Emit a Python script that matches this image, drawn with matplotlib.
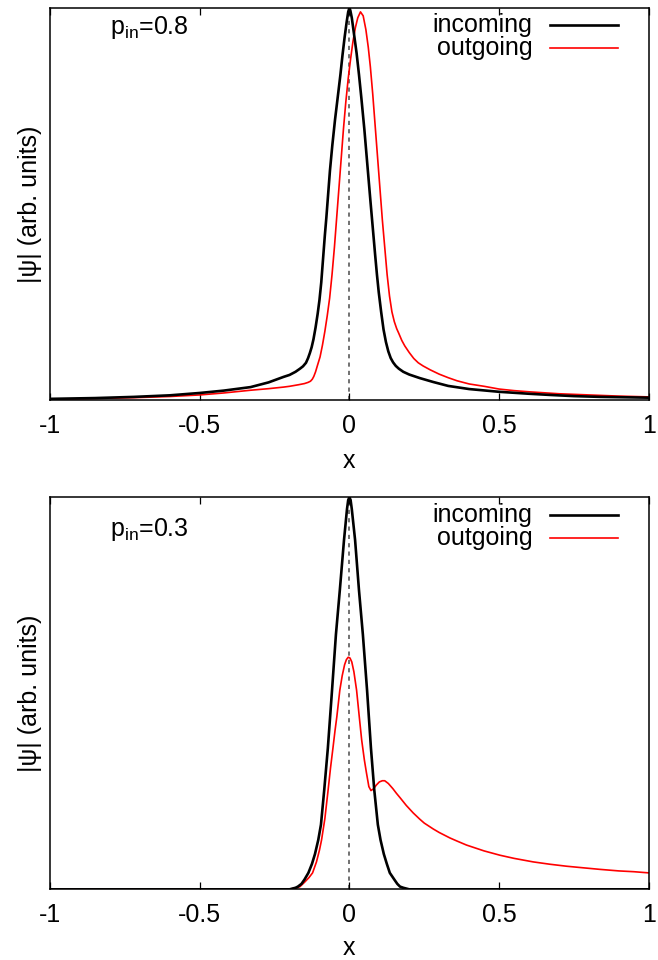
import matplotlib
matplotlib.use("Agg")
import matplotlib.pyplot as plt

plt.rcParams['font.family'] = ['Liberation Sans', 'DejaVu Sans']
plt.rcParams['axes.unicode_minus'] = False
plt.rcParams['mathtext.fontset'] = 'custom'
plt.rcParams['mathtext.rm'] = 'Liberation Sans'

# ---- data: wave-packet modulus, p_in = 0.8 ----
x_in_08 = [-1.0, -0.85, -0.72, -0.6, -0.5, -0.42, -0.33, -0.27, -0.22, -0.2,
           -0.18, -0.165, -0.155, -0.145, -0.138, -0.132, -0.126, -0.12, -0.113,
           -0.106, -0.1, -0.094, -0.088, -0.082, -0.077, -0.073, -0.065, -0.057,
           -0.048, -0.037, -0.03, -0.023, -0.016, -0.009, -0.004, 0.0, 0.003,
           0.008, 0.016, 0.024, 0.032, 0.04, 0.05, 0.06, 0.07, 0.078, 0.086,
           0.092, 0.098, 0.106, 0.114, 0.122, 0.13, 0.138, 0.146, 0.155, 0.165,
           0.18, 0.2, 0.235, 0.28, 0.33, 0.4, 0.5, 0.6, 0.67, 0.75, 0.84, 0.92, 1.0]
y_in_08 = [0.003, 0.005, 0.008, 0.012, 0.018, 0.024, 0.033, 0.045, 0.059, 0.064,
           0.072, 0.08, 0.086, 0.095, 0.107, 0.12, 0.135, 0.155, 0.185,
           0.22, 0.255, 0.3, 0.36, 0.42, 0.465, 0.505, 0.585, 0.65,
           0.715, 0.785, 0.83, 0.88, 0.925, 0.965, 0.99, 1.0, 0.994,
           0.975, 0.93, 0.885, 0.83, 0.77, 0.69, 0.60, 0.51, 0.44, 0.37,
           0.32, 0.275, 0.225, 0.18, 0.148, 0.124, 0.107, 0.096, 0.087, 0.08,
           0.072, 0.065, 0.056, 0.046, 0.036, 0.028, 0.021, 0.016, 0.013, 0.010, 0.008, 0.007, 0.006]

x_out_08 = [-1.0, -0.85, -0.72, -0.6, -0.5, -0.42, -0.33, -0.27, -0.22, -0.2,
            -0.17, -0.15, -0.138, -0.13, -0.124, -0.119, -0.113, -0.106, -0.098,
            -0.09, -0.082, -0.074, -0.066, -0.058, -0.05, -0.043, -0.036, -0.028,
            -0.02, -0.012, -0.004, 0.004, 0.012, 0.02, 0.028, 0.037, 0.046, 0.055,
            0.063, 0.07, 0.078, 0.086, 0.094, 0.102, 0.11, 0.118, 0.126, 0.134,
            0.142, 0.15, 0.158, 0.165, 0.175, 0.185, 0.2, 0.215, 0.23, 0.246,
            0.27, 0.3, 0.33, 0.36, 0.4, 0.45, 0.5, 0.55, 0.6, 0.7, 0.8, 0.9, 1.0]
y_out_08 = [0.002, 0.004, 0.006, 0.009, 0.013, 0.018, 0.025, 0.029, 0.033, 0.035,
            0.039, 0.042, 0.045, 0.048, 0.053, 0.06, 0.072, 0.09, 0.11,
            0.14, 0.175, 0.215, 0.26, 0.32, 0.39, 0.46, 0.53, 0.61,
            0.69, 0.76, 0.82, 0.87, 0.915, 0.95, 0.975, 0.99, 0.98, 0.945,
            0.9, 0.85, 0.78, 0.70, 0.62, 0.54, 0.46, 0.39, 0.32, 0.265,
            0.225, 0.2, 0.182, 0.17, 0.152, 0.138, 0.121, 0.106, 0.095, 0.087,
            0.077, 0.066, 0.057, 0.049, 0.041, 0.035, 0.028, 0.024, 0.021, 0.016, 0.013, 0.010, 0.008]

# ---- data: wave-packet modulus, p_in = 0.3 ----
x_in_03 = [-1.0, -0.5, -0.25, -0.2, -0.18, -0.172, -0.16, -0.15, -0.137, -0.125,
           -0.115, -0.104, -0.095, -0.084, -0.072, -0.058, -0.045, -0.032, -0.018,
           -0.008, -0.004, 0.0, 0.004, 0.008, 0.019, 0.032, 0.045, 0.059, 0.072,
           0.083, 0.095, 0.104, 0.115, 0.125, 0.135, 0.15, 0.16, 0.169, 0.18, 0.2,
           0.25, 0.5, 1.0]
y_in_03 = [0.0, 0.0, 0.0, 0.0, 0.004, 0.007, 0.014, 0.025, 0.042, 0.065,
           0.09, 0.126, 0.165, 0.254, 0.36, 0.508, 0.65, 0.763, 0.891,
           0.97, 0.993, 1.0, 0.993, 0.97, 0.891, 0.763, 0.65, 0.508, 0.36,
           0.254, 0.165, 0.126, 0.09, 0.065, 0.042, 0.025, 0.014, 0.007, 0.004, 0.0,
           0.0, 0.0, 0.0]

x_out_03 = [-1.0, -0.5, -0.25, -0.2, -0.19, -0.175, -0.165, -0.15, -0.135, -0.123,
            -0.11, -0.1, -0.093, -0.082, -0.071, -0.063, -0.055, -0.048, -0.042,
            -0.032, -0.024, -0.016, -0.01, -0.004, 0.002, 0.008, 0.015, 0.024,
            0.033, 0.041, 0.05, 0.057, 0.065, 0.072, 0.08, 0.09, 0.1, 0.11, 0.118,
            0.13, 0.145, 0.157, 0.17, 0.19, 0.213, 0.235, 0.25, 0.28, 0.3, 0.336,
            0.36, 0.391, 0.45, 0.503, 0.55, 0.614, 0.67, 0.725, 0.78, 0.836, 0.9,
            0.95, 1.0]
y_out_03 = [0.0, 0.0, 0.0, 0.0, 0.002, 0.004, 0.007, 0.018, 0.03, 0.042,
            0.07, 0.1, 0.126, 0.18, 0.254, 0.31, 0.36, 0.405, 0.44,
            0.508, 0.545, 0.573, 0.586, 0.592, 0.59, 0.58, 0.555, 0.508,
            0.44, 0.381, 0.33, 0.297, 0.262, 0.252, 0.256, 0.266, 0.274, 0.277, 0.277,
            0.27, 0.257, 0.245, 0.233, 0.214, 0.195, 0.179, 0.169, 0.154, 0.145, 0.131,
            0.123, 0.113, 0.098, 0.087, 0.079, 0.07, 0.064, 0.059, 0.055, 0.051, 0.047,
            0.045, 0.042]

x_ticks = [-1, -0.5, 0, 0.5, 1]
x_tick_labels = ['-1', '-0.5', '0', '0.5', '1']
series_labels = ['incoming', 'outgoing']
panel_labels = [r'$\mathregular{p_{in}}$=0.8', r'$\mathregular{p_{in}}$=0.3']

FS = 18
fig = plt.figure(figsize=(6.58, 9.6), dpi=100)
ax_top = fig.add_axes([0.076, 0.5833, 0.910, 0.4084])
ax_bot = fig.add_axes([0.076, 0.0736, 0.910, 0.4084])

panels = [
    (ax_top, x_in_08, y_in_08, x_out_08, y_out_08, panel_labels[0], 0.949, 0.957, 0.898, 8),
    (ax_bot, x_in_03, y_in_03, x_out_03, y_out_03, panel_labels[1], 0.917, 0.955, 0.896, 6),
]

for ax, xi, yi, xo, yo, plabel, ply, ly1, ly2, lpad in panels:
    ax.axvline(0, color='0.35', lw=1.2, ls=(0, (2.5, 2.5)), zorder=1)
    ax.plot(xo, yo, color='#ff0000', lw=1.2, zorder=2)
    ax.plot(xi, yi, color='black', lw=1.9, zorder=3)
    ax.set_xlim(-1, 1)
    ax.set_ylim(0, 1.0)
    ax.set_yticks([])
    ax.set_xticks(x_ticks)
    ax.set_xticklabels(x_tick_labels)
    ax.tick_params(axis='x', direction='in', top=True, bottom=True,
                   length=5, width=0.9, labelsize=FS, pad=10)
    for sp in ax.spines.values():
        sp.set_linewidth(1.1)
    ax.set_xlabel('x', fontsize=FS, labelpad=lpad)
    ax.set_ylabel('|ψ| (arb. units)', fontsize=FS, labelpad=6)
    ax.text(0.1, ply, plabel, transform=ax.transAxes, fontsize=FS,
            ha='left', va='center')
    # key: label text on the left, line sample on the right
    for label, yk, col, lw in [(series_labels[0], ly1, 'black', 1.9),
                               (series_labels[1], ly2, '#ff0000', 1.2)]:
        ax.text(0.806, yk, label, transform=ax.transAxes, fontsize=FS,
                ha='right', va='center')
        ax.plot([0.835, 0.948], [yk, yk], transform=ax.transAxes,
                color=col, lw=lw, clip_on=False)

fig.savefig('out.png', dpi=100)
